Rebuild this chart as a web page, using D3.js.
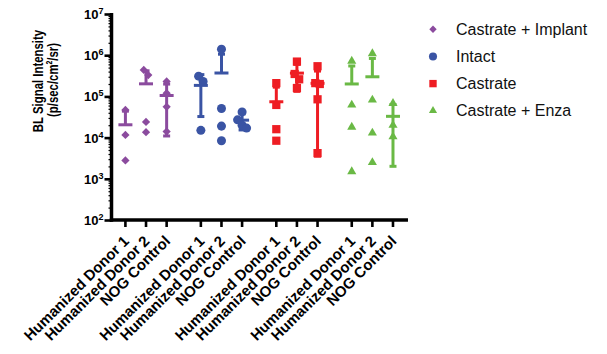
<!DOCTYPE html>
<html>
<head>
<meta charset="utf-8">
<script src="https://cdn.jsdelivr.net/npm/d3@7"></script>
<style>
  body { margin: 0; background: #fff; }
  svg { display: block; font-family: "Liberation Sans", Arial, Helvetica, sans-serif; }
</style>
</head>
<body>
<svg id="chart"></svg>
<script>
// series + categories
const groups = ["Castrate + Implant", "Intact", "Castrate", "Castrate + Enza"];
const categories = ["Humanized Donor 1", "Humanized Donor 2", "NOG Control"];
const colors = ["#8b4b9e", "#3a54a4", "#ee1d23", "#6ab945"];

// BL signal per animal, one array per category
const implantValues = [
    [4.7e4, 1.16e4, 2.8e3],
    [4.4e5, 3.3e5, 2.4e4, 1.35e4],
    [2.3e5, 1.2e5, 5.6e4, 1.4e4]
];
const intactValues = [
    [3.1e5, 2.3e5, 1.5e4],
    [1.4e6, 5.1e4, 1.9e4, 8.4e3],
    [4.2e4, 2.7e4, 2.0e4, 1.7e4]
];
const castrateValues = [
    [2.1e5, 6.2e4, 1.6e4, 8.4e3],
    [7.0e5, 3.5e5, 2.6e5, 1.6e5],
    [5.4e5, 2.1e5, 2.0e5, 8.5e4, 4.2e3]
];
const enzaValues = [
    [7.2e5, 6.2e4, 1.8e4, 1.5e3],
    [1.1e6, 8.2e4, 1.3e4, 2.5e3],
    [6.8e4, 2.0e4, 1.05e4]
];
const yTickExponents = [2, 3, 4, 5, 6, 7];

const seriesValues = [implantValues, intactValues, castrateValues, enzaValues];

const width = 607, height = 354;
const svg = d3.select("#chart").attr("width", width).attr("height", height);

const y = d3.scaleLog().domain([1e2, 1e7]).range([220, 14]);
const xGroup = d3.scaleBand().domain(groups).range([108.3, 410.1]);
const xCat = d3.scalePoint().domain(categories).range([0, xGroup.bandwidth()]).padding(0.83);

function catX(g, c) { return xGroup(g) + xCat(c); }

const axisLeftX = 111.5;
const axisBottomY = 220;

// ---- y axis ----
const decades = yTickExponents.map(function (e) { return Math.pow(10, e); });
const minors = [];
decades.slice(0, -1).forEach(function (d) {
    for (let k = 2; k < 10; k++) minors.push(d * k);
});

svg.append("g")
    .attr("transform", "translate(" + axisLeftX + ",0)")
    .call(d3.axisLeft(y).tickValues(minors).tickSize(3).tickSizeOuter(0).tickFormat(""))
    .call(function (g) {
        g.select(".domain").remove();
        g.selectAll("line").attr("stroke", "#000").attr("stroke-width", 1.2);
    });

svg.append("g")
    .attr("transform", "translate(" + axisLeftX + ",0)")
    .call(d3.axisLeft(y).tickValues(decades).tickSize(7).tickSizeOuter(0).tickFormat(""))
    .call(function (g) {
        g.select(".domain").attr("stroke", "#000").attr("stroke-width", 3.5)
            .attr("d", "M0," + (y(1e7) - 1) + "V" + (y(1e2) + 1.7));
        g.selectAll("line").attr("stroke", "#000").attr("stroke-width", 2.6);
    });

const yLabels = svg.append("g").selectAll("text")
    .data(yTickExponents)
    .enter()
    .append("text")
    .attr("x", 103.5)
    .attr("y", function (e) { return y(Math.pow(10, e)) + 5; })
    .attr("text-anchor", "end")
    .attr("font-weight", "bold")
    .attr("font-size", "13px")
    .attr("fill", "#000");
yLabels.append("tspan").text("10");
yLabels.append("tspan").attr("dy", -5).attr("font-size", "9px").text(function (e) { return e; });

// y title (glyphs look wide and short in the source, so squeeze along the text)
svg.append("text")
    .attr("transform", "translate(42.5,81) rotate(-90) scale(0.735,1)")
    .attr("text-anchor", "middle")
    .attr("font-weight", "bold")
    .attr("font-size", "15.5px")
    .text("BL Signal Intensity");
svg.append("text")
    .attr("transform", "translate(57.5,80) rotate(-90) scale(0.735,1)")
    .attr("text-anchor", "middle")
    .attr("font-weight", "bold")
    .attr("font-size", "15.5px")
    .text("(p/sec/cm²/sr)");

// ---- x axis ----
const xItems = [];
groups.forEach(function (g, gi) {
    categories.forEach(function (c, ci) {
        xItems.push({ group: g, gi: gi, cat: c, ci: ci, values: seriesValues[gi][ci] });
    });
});
const lastX = catX(groups[groups.length - 1], categories[categories.length - 1]);

svg.append("line")
    .attr("x1", axisLeftX - 1.7).attr("x2", lastX + 15)
    .attr("y1", axisBottomY).attr("y2", axisBottomY)
    .attr("stroke", "#000").attr("stroke-width", 3.5);

svg.append("g").selectAll("line")
    .data(xItems)
    .enter()
    .append("line")
    .attr("x1", function (d) { return catX(d.group, d.cat); })
    .attr("x2", function (d) { return catX(d.group, d.cat); })
    .attr("y1", axisBottomY)
    .attr("y2", axisBottomY + 7)
    .attr("stroke", "#000")
    .attr("stroke-width", 2.6);

svg.append("g").selectAll("text")
    .data(xItems)
    .enter()
    .append("text")
    .attr("transform", function (d) {
        return "translate(" + (catX(d.group, d.cat) + 4.5) + "," + (axisBottomY + 22) + ") rotate(-45)";
    })
    .attr("text-anchor", "end")
    .attr("font-weight", "bold")
    .attr("font-size", "15px")
    .text(function (d) { return d.cat; });

// ---- mean +/- SD ----
function stats(vals) {
    const m = d3.mean(vals);
    const sd = d3.deviation(vals);
    return { mean: m, hi: m + sd, lo: m - sd };
}

svg.append("g").selectAll("g")
    .data(xItems)
    .enter()
    .append("g")
    .attr("stroke", function (d) { return colors[d.gi]; })
    .attr("stroke-width", 3)
    .each(function (d) {
        const s = stats(d.values);
        const cx = catX(d.group, d.cat);
        const g = d3.select(this);
        const top = y(s.hi);
        const bottom = s.lo > 0 ? y(s.lo) : y(s.mean);
        g.append("line").attr("x1", cx).attr("x2", cx).attr("y1", top).attr("y2", bottom);
        g.append("line").attr("x1", cx - 3.5).attr("x2", cx + 3.5).attr("y1", top).attr("y2", top);
        if (s.lo > 0) {
            g.append("line").attr("x1", cx - 3.5).attr("x2", cx + 3.5).attr("y1", bottom).attr("y2", bottom);
        }
        g.append("line").attr("x1", cx - 7).attr("x2", cx + 7).attr("y1", y(s.mean)).attr("y2", y(s.mean));
    });

// ---- points ----
const symbols = [d3.symbolSquare, d3.symbolCircle, d3.symbolSquare, d3.symbolTriangle];
const symbolSizes = [34, 64, 68, 36];
const symbolRotate = [45, 0, 0, 0];

const points = [];
xItems.forEach(function (d) {
    const cx = catX(d.group, d.cat);
    const ys = d.values.map(function (v) { return y(v); }).sort(d3.ascending);
    // spread overlapping points a little, like the scatter in the source
    let cluster = [];
    function flush() {
        cluster.forEach(function (py, i) {
            points.push({ gi: d.gi, x: cx + (i - (cluster.length - 1) / 2) * 4.5, y: py });
        });
        cluster = [];
    }
    ys.forEach(function (py) {
        if (cluster.length && py - cluster[cluster.length - 1] >= 7) flush();
        cluster.push(py);
    });
    flush();
});

svg.append("g").selectAll("path")
    .data(points)
    .enter()
    .append("path")
    .attr("d", function (d) { return d3.symbol().type(symbols[d.gi]).size(symbolSizes[d.gi])(); })
    .attr("transform", function (d) { return "translate(" + d.x + "," + d.y + ") rotate(" + symbolRotate[d.gi] + ")"; })
    .attr("fill", function (d) { return colors[d.gi]; });

// ---- legend ----
const legend = svg.append("g").selectAll("g")
    .data(groups)
    .enter()
    .append("g")
    .attr("transform", function (d, i) { return "translate(433," + (29.3 + i * 27.15) + ")"; });

legend.append("path")
    .attr("d", function (d, i) { return d3.symbol().type(symbols[i]).size(symbolSizes[i] * 0.8)(); })
    .attr("transform", function (d, i) { return "rotate(" + symbolRotate[i] + ")"; })
    .attr("fill", function (d, i) { return colors[i]; });

legend.append("text")
    .attr("x", 23)
    .attr("y", 5.7)
    .attr("font-size", "16px")
    .attr("fill", "#111")
    .text(function (d) { return d; });
</script>
</body>
</html>
